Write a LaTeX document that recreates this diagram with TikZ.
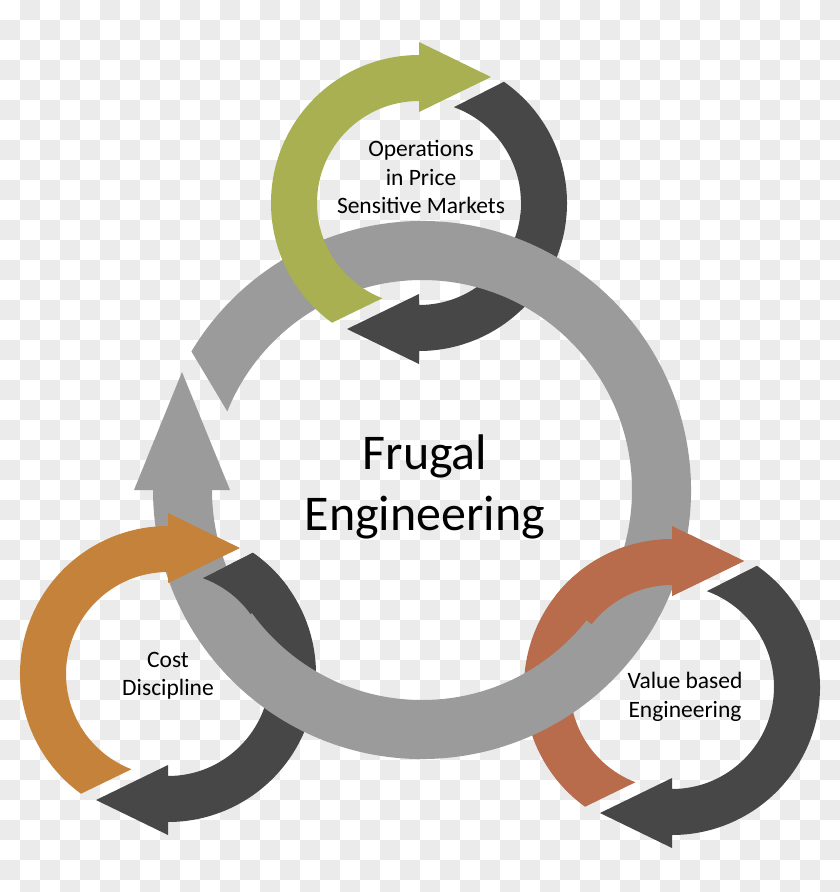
\documentclass[tikz,border=0pt]{standalone}
\usepackage{fontspec}
\setmainfont{Carlito}
\usetikzlibrary{calc}

\definecolor{checkgray}{HTML}{EBEBEB}
\definecolor{ringgray}{HTML}{9B9B9B}
\definecolor{loopdark}{HTML}{474747}
\definecolor{loopolive}{HTML}{A9B052}
\definecolor{looporange}{HTML}{C5823A}
\definecolor{loopbrown}{HTML}{B86C4B}

% sizes of the small loops (pt), changed locally for the big ring
\def\loopin{102}
\def\loopout{148}
\def\loopmid{126}
\def\headw{35}
\def\headl{72}

% curved arrow: [style]{centre}{tail inner angle}{tail outer angle}{head angle}
\newcommand{\cyclearrow}[5][]{%
  \fill[#1] ($(#2)+({#4}:\loopout)$)
    arc[start angle=#4, end angle=#5, radius=\loopout]
    -- ($(#2)+({#5}:{\loopmid+\headw})$)
    -- ($(#2)+({#5}:\loopmid)+({#5+90}:\headl)$)
    -- ($(#2)+({#5}:{\loopmid-\headw})$)
    -- ($(#2)+({#5}:\loopin)$)
    arc[start angle=#5, end angle=#3, radius=\loopin] -- cycle;}

\tikzset{
  bigtext/.style={font=\fontsize{50}{61}\selectfont, align=center, inner sep=0pt},
  looptext/.style={font=\fontsize{23.5}{28.5}\selectfont, align=center, inner sep=0pt},
}

\begin{document}
\begin{tikzpicture}[x=1pt,y=-1pt]
        \useasboundingbox (0,0) rectangle (840,892);
        % checkered background
        \begin{scope}
            \clip (0,0) rectangle (840,892);
            \foreach \j in {0,...,44}{
                \pgfmathtruncatemacro{\ia}{mod(\j+1,2)}
                \pgfmathtruncatemacro{\ib}{\ia+2}
                \foreach \i in {\ia,\ib,...,41}
                    \fill[checkgray] (20*\i,20*\j) rectangle ++(20,20);
            }
        \end{scope}

        \coordinate (frugalc) at (422,490);
        \coordinate (opsc) at (419,203);
        \coordinate (costc) at (168,674);
        \coordinate (valuec) at (672,687);

        % arrows that pass under the ring
        \cyclearrow[loopdark]{opsc}{290}{305}{450}
        \cyclearrow[loopdark]{costc}{290}{305}{450}
        \cyclearrow[loopdark]{valuec}{290}{305}{450}
        \cyclearrow[loopbrown]{valuec}{111}{126}{270}

        % big ring
        \begin{scope}
            \def\loopin{210}
            \def\loopout{269}
            \def\loopmid{240}
            \def\headw{48}
            \def\headl{118}
            \cyclearrow[ringgray]{frugalc}{202}{211}{540}
        \end{scope}

        % arrows that pass over the ring
        \cyclearrow[loopolive]{opsc}{111}{126}{270}
        \cyclearrow[looporange]{costc}{111}{126}{270}
        \begin{scope}
            \clip (costc) -- +(250:220) -- +(287:220) -- +(324:220) -- cycle;
            \cyclearrow[loopdark]{costc}{290}{305}{450}
        \end{scope}
        \begin{scope}
            \clip (valuec) -- +(218:230) -- +(274:230) -- +(330:230) -- cycle;
            \cyclearrow[loopbrown]{valuec}{111}{126}{270}
        \end{scope}

        \node[bigtext] (frugal) at (425,487) {Frugal\\Engineering};
        \node[looptext] (ops) at (421,177) {Operations\\in Price\\Sensitive Markets};
        \node[looptext] (cost) at (168,676) {Cost\\Discipline};
        \node[looptext] (value) at (685,697) {Value based\\Engineering};
    \end{tikzpicture}
\end{document}
